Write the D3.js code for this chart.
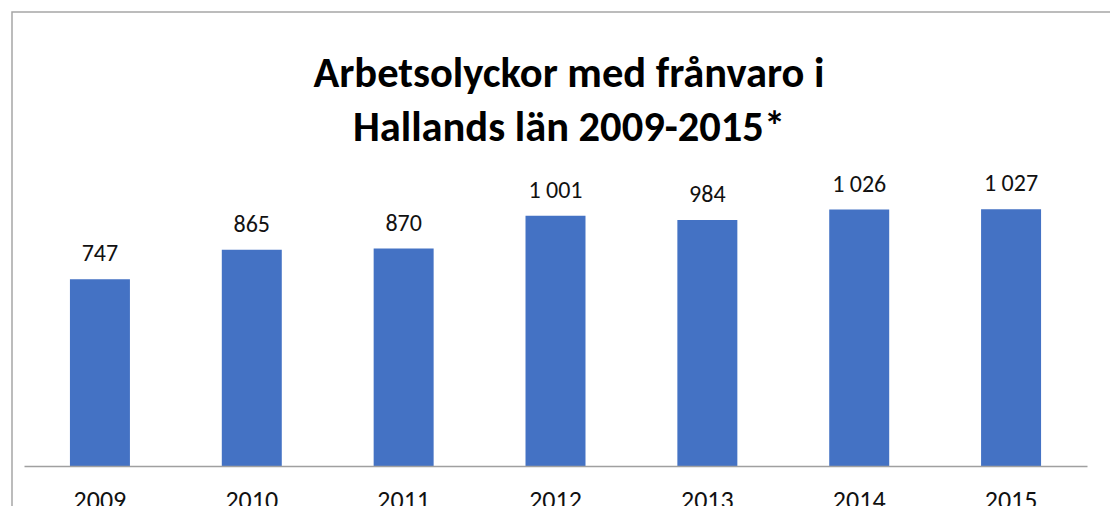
<!DOCTYPE html>
<html>
<head>
<meta charset="utf-8">
<script src="https://cdn.jsdelivr.net/npm/d3@7"></script>
<style>
  html, body { margin: 0; padding: 0; background: #fff; overflow: hidden; }
  svg { display: block; font-family: Carlito, Lato, "Open Sans", sans-serif; }
</style>
</head>
<body>
<div id="chart"></div>
<script>
const years = ['2009', '2010', '2011', '2012', '2013', '2014', '2015'];
const accidents = [747, 865, 870, 1001, 984, 1026, 1027];
const titleLines = ['Arbetsolyckor med frånvaro i', 'Hallands län 2009-2015*'];

const width = 1110, height = 506;

const svg = d3.select('#chart')
  .append('svg')
  .attr('width', width)
  .attr('height', height);

// chart frame (cropped at right and bottom)
svg.append('rect')
  .attr('x', 12)
  .attr('y', 12)
  .attr('width', 1200)
  .attr('height', 600)
  .attr('fill', '#fff')
  .attr('stroke', '#a6a6a6')
  .attr('stroke-width', 1.5);

const x = d3.scaleBand()
  .domain(years)
  .range([24, 1087])
  .paddingInner(0.605)
  .paddingOuter(0.3025);

const y = d3.scaleLinear()
  .domain([0, 1200])
  .range([466, 166]);

const fmt = v => d3.format(',')(v).replace(',', ' ');

svg.selectAll('.title')
  .data(titleLines)
  .enter()
  .append('text')
  .attr('class', 'title')
  .attr('x', 569)
  .attr('y', (d, i) => 87 + i * 54)
  .attr('text-anchor', 'middle')
  .attr('font-size', 42.5)
  .attr('font-weight', 'bold')
  .attr('fill', '#000')
  .text(d => d);

svg.selectAll('.bar')
  .data(accidents)
  .enter()
  .append('rect')
  .attr('class', 'bar')
  .attr('x', (d, i) => x(years[i]))
  .attr('y', d => y(d))
  .attr('width', x.bandwidth())
  .attr('height', d => y(0) - y(d))
  .attr('fill', '#4472c4');

svg.selectAll('.label')
  .data(accidents)
  .enter()
  .append('text')
  .attr('class', 'label')
  .attr('x', (d, i) => x(years[i]) + x.bandwidth() / 2)
  .attr('y', d => y(d) - 18)
  .attr('text-anchor', 'middle')
  .attr('font-size', 24)
  .attr('fill', '#111')
  .text(d => fmt(d));

const xAxis = svg.append('g')
  .attr('transform', `translate(0,${y(0)})`)
  .call(d3.axisBottom(x).tickSize(0).tickPadding(25));

xAxis.select('.domain')
  .attr('stroke', '#a0a0a0')
  .attr('stroke-width', 1.5);

xAxis.selectAll('text')
  .attr('font-size', 26)
  .attr('font-family', 'Carlito, Lato, "Open Sans", sans-serif')
  .attr('fill', '#111');
</script>
</body>
</html>
